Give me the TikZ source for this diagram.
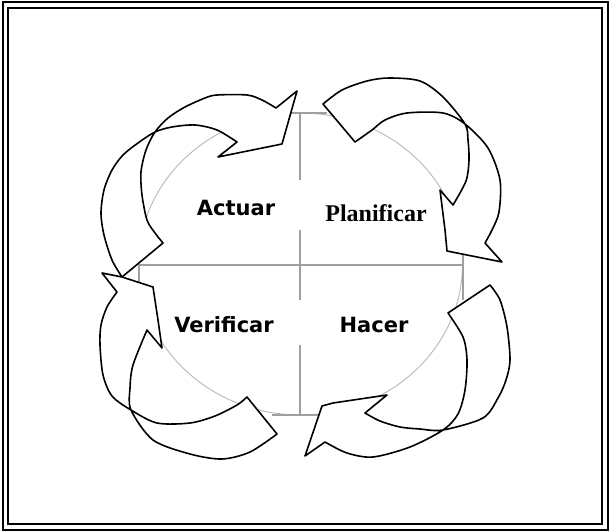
\documentclass[tikz,border=0pt]{standalone}
\usepackage{fontspec}
\newfontfamily\phasesans{DejaVu Sans}
\newfontfamily\phaseserif{Liberation Serif}

\begin{document}
\begin{tikzpicture}[
  x=1pt, y=-1pt,
  cyclearrow/.style={
    draw=black, fill=white, line width=1.6pt, line join=round
  },
  gridline/.style={draw=gray!75, line width=1.4pt},
  guide/.style={draw=gray!55, line width=0.9pt},
  phase/.style={font=\phasesans\bfseries\fontsize{21}{25}\selectfont, inner sep=0pt},
  phaseser/.style={font=\phaseserif\bfseries\fontsize{24}{28}\selectfont, inner sep=0pt}
]

% --- Frame
\useasboundingbox (0,0) rectangle (610,532);
\fill[white] (0,0) rectangle (610,532);
\draw[line width=2pt]   (2.5,2.5) rectangle (607.5,529.5);
\draw[line width=1.7pt] (8.2,8.2) rectangle (601.8,523.8);

% --- Circle and quadrant lines
\draw[guide] (300.5,264) ellipse [x radius=162, y radius=151];
\draw[gridline] (138,265) -- (463,265);
\draw[gridline] (300,113) -- (300,180) (300,230) -- (300,300) (300,345) -- (300,415);
\draw[gridline] (290,113) -- (327,113) (272,415) -- (320,415);
\draw[gridline] (139,265) -- (139,283) (463,253) -- (463,300);

% --- Arrow: left -> top
\draw[cyclearrow] (163,243) -- (122,277)
  -- plot[smooth] coordinates {(122,277) (112,260) (104,235) (101,213) (104,190) (112,170) (123,155) (138,143) (155,132) (172,127) (195,125) (217,130) (237,142)}
  -- (218,157) -- (282,144) -- (297,91) -- (276,108)
  -- plot[smooth] coordinates {(276,108) (262,100) (247,95) (217,95) (205,98) (185,107) (168,118) (155,132) (146,150) (141,172) (142,195) (147,220) (155,233) (163,243)}
  -- cycle;

% --- Arrow: top -> right
\draw[cyclearrow] (355,142) -- (323,104)
  -- plot[smooth] coordinates {(323,104) (342,90) (367,81) (389,78) (420,81) (443,97) (465,124) (468,140) (469,160) (466,181) (453,205)}
  -- (440,190) -- (445,230) -- (447,251) -- (502,262) -- (485,243)
  -- plot[smooth] coordinates {(485,243) (492,230) (499,212) (500,180) (488,148) (465,124) (443,113) (407,113) (385,120) (372,130) (355,142)}
  -- cycle;

% --- Arrow: right -> bottom
\draw[cyclearrow] (448,313) -- (490,285)
  -- plot[smooth] coordinates {(490,285) (500,300) (507,327) (510,360) (506,380) (498,398) (483,418) (443,430) (420,429) (400,427) (380,421) (365,413)}
  -- (387,395) -- (333,403) -- (322,406) -- (305,456) -- (325,442)
  -- plot[smooth] coordinates {(325,442) (347,453) (373,457) (410,447) (443,430) (458,414) (465,390) (467,360) (463,337) (448,313)}
  -- cycle;

% --- Arrow: bottom -> left
\draw[cyclearrow] (247,397) -- (277,434)
  -- plot[smooth] coordinates {(277,434) (250,452) (222,459) (190,454) (153,440) (131,410) (130,388) (133,365) (147,330)}
  -- (162,348) -- (158,320) -- (153,287) -- (122,277) -- (102,273) -- (117,292)
  -- plot[smooth] coordinates {(117,292) (107,307) (101,325) (100,345) (103,375) (112,396) (131,410) (157,423) (190,423) (215,416) (237,405) (247,397)}
  -- cycle;

% --- Phase labels
\node[phase]    (actuar)     at (236,208) {Actuar};
\node[phaseser] (planificar) at (376,213) {Planificar};
\node[phase]    (verificar)  at (224,325) {Verificar};
\node[phase]    (hacer)      at (374,325) {Hacer};

\end{tikzpicture}
\end{document}
